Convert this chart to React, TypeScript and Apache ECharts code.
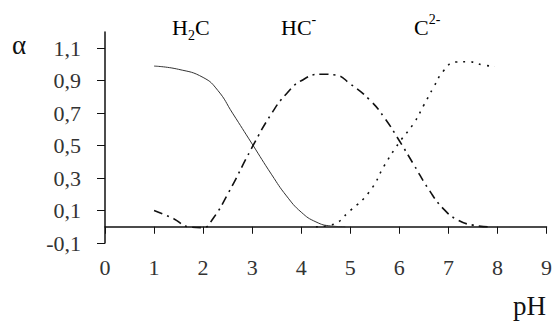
import React, { useEffect, useRef } from "react";
import * as echarts from "echarts";

const h2cData: [number, number][] = [
  [1, 0.99], [1.5, 0.97], [2, 0.92], [2.3, 0.84], [2.6, 0.7], [3, 0.51],
  [3.4, 0.32], [3.7, 0.19], [4, 0.09], [4.3, 0.03], [4.6, 0.005], [4.9, 0.0],
];
const hcData: [number, number][] = [
  [1, 0.1], [1.4, 0.05], [1.7, 0.0], [2, -0.005], [2.2, 0.05], [2.5, 0.2],
  [3, 0.49], [3.4, 0.7], [3.7, 0.82], [4, 0.9], [4.4, 0.94], [4.7, 0.935],
  [5, 0.88], [5.4, 0.78], [5.7, 0.67], [6, 0.53], [6.3, 0.38], [6.6, 0.23],
  [6.9, 0.11], [7.2, 0.04], [7.5, 0.01], [7.8, 0.0],
];
const c2Data: [number, number][] = [
  [4.3, 0.0], [4.6, 0.01], [5, 0.1], [5.4, 0.22], [5.7, 0.38], [6, 0.52],
  [6.3, 0.64], [6.5, 0.75], [6.7, 0.86], [6.9, 0.96], [7.15, 1.015],
  [7.4, 1.017], [7.7, 0.997], [7.95, 0.987],
];

const seriesLabels = ["H2C", "HC-", "C2-"];
const xTicks = { min: 0, max: 9, interval: 1 };
const yTicks = { min: -0.1, max: 1.2, interval: 0.2 };

const serif = "'Liberation Serif', 'DejaVu Serif', serif";

export default function App() {
  const ref = useRef<HTMLDivElement>(null);
  useEffect(() => {
    if (!ref.current) return;
    const chart = echarts.init(ref.current, null, { renderer: "svg" });
    const rich = {
      a: { fontSize: 22, fontFamily: serif, color: "#111", lineHeight: 30 },
      sub: { fontSize: 14, fontFamily: serif, color: "#111", verticalAlign: "bottom", lineHeight: 14 },
      sup: { fontSize: 14, fontFamily: serif, color: "#111", verticalAlign: "top", lineHeight: 16 },
    };
    chart.setOption({
      animation: false,
      backgroundColor: "#fff",
      grid: { left: 105, right: 6, top: 32, bottom: 81, containLabel: false },
      xAxis: {
        type: "value",
        min: xTicks.min,
        max: xTicks.max,
        interval: xTicks.interval,
        axisLine: { onZero: true, lineStyle: { color: "#111", width: 1.5 } },
        axisTick: { show: true, length: 7, lineStyle: { color: "#111" } },
        axisLabel: { margin: 13, fontSize: 22, fontFamily: serif, color: "#333" },
        splitLine: { show: false },
      },
      yAxis: {
        type: "value",
        min: yTicks.min,
        max: yTicks.max,
        interval: yTicks.interval,
        axisLine: { show: true, onZero: false, lineStyle: { color: "#111", width: 1.5 } },
        axisTick: { show: true, length: 8, lineStyle: { color: "#111" } },
        axisLabel: {
          margin: 24,
          fontSize: 22,
          fontFamily: serif,
          color: "#333",
          showMaxLabel: false,
          formatter: (v: number) => (Math.abs(v - 1.2) < 1e-6 ? "" : v.toFixed(1).replace(".", ",")),
        },
        splitLine: { show: false },
      },
      series: [
        {
          name: seriesLabels[0],
          type: "line",
          smooth: true,
          symbol: "none",
          data: h2cData,
          lineStyle: { color: "#333", width: 1, type: "solid" },
        },
        {
          name: seriesLabels[1],
          type: "line",
          smooth: true,
          symbol: "none",
          data: hcData,
          lineStyle: { color: "#111", width: 1.6, type: [9, 5, 2, 5] },
        },
        {
          name: seriesLabels[2],
          type: "line",
          smooth: true,
          symbol: "none",
          data: c2Data,
          lineStyle: { color: "#111", width: 1.6, type: [2, 6] },
        },
      ],
      graphic: [
        { type: "text", left: 12, top: 31, style: { text: "α", fontSize: 27, fontFamily: serif, fill: "#111" } },
        { type: "text", left: 513, top: 292, style: { text: "pH", fontSize: 27, fontFamily: serif, fill: "#111" } },
        { type: "text", left: 172, top: 16, style: { text: "{a|H}{sub|2}{a|C}", rich } },
        { type: "text", left: 281, top: 12, style: { text: "{a|HC}{sup|-}", rich } },
        { type: "text", left: 414, top: 12, style: { text: "{a|C}{sup|2-}", rich } },
      ],
    });
    return () => chart.dispose();
  }, []);
  return <div ref={ref} style={{ width: 555, height: 324, position: "absolute", left: 0, top: 0 }} />;
}
